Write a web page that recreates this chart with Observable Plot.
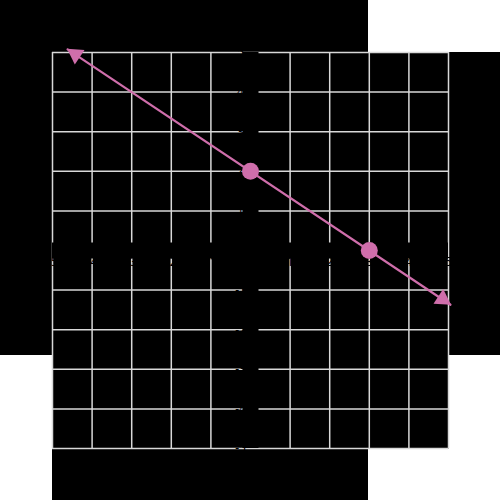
<!DOCTYPE html>
<html>
<head>
<meta charset="utf-8">
<script src="https://cdn.jsdelivr.net/npm/d3@7"></script>
<script src="https://cdn.jsdelivr.net/npm/@observablehq/plot@0.6"></script>
<style>
  html, body { margin: 0; padding: 0; background: #fff; }
  #wrap { position: relative; width: 500px; height: 500px; overflow: hidden; }
  .blk { position: absolute; background: #000; }
  #chart { position: absolute; left: 0; top: 0; }
  #chart svg { display: block; background: transparent; }
</style>
</head>
<body>
<div id="wrap">
  <div class="blk" style="left:0;top:0;width:368px;height:52px"></div>
  <div class="blk" style="left:0;top:52px;width:500px;height:303px"></div>
  <div class="blk" style="left:52px;top:355px;width:396px;height:93px"></div>
  <div class="blk" style="left:52px;top:448px;width:316px;height:52px"></div>
  <div id="chart"></div>
</div>
<script>
// grid ticks
const ticks = [-5, -4, -3, -2, -1, 0, 1, 2, 3, 4, 5];
const tickLabels = ["-5", "-4", "-3", "-2", "-1", "", "1", "2", "3", "4", "5"];
// plotted points
const pointX = [0, 3];
const pointY = [2, 0];
// line endpoints (arrow tips)
const lineX = [-4.62, 5.05];
const lineY = [5.08, -1.37];
// arrowhead centres and rotation (degrees)
const arrowX = [-4.42, 4.85];
const arrowY = [4.95, -1.23];
const arrowRotate = [-56.3, 123.7];

const points = pointX.map((x, i) => ({x, y: pointY[i]}));
const line = lineX.map((x, i) => ({x, y: lineY[i]}));
const arrows = arrowX.map((x, i) => ({x, y: arrowY[i], r: arrowRotate[i]}));
const pink = "#cf6eab";

const chart = Plot.plot({
  width: 500,
  height: 500,
  marginTop: 52, marginBottom: 52, marginLeft: 52, marginRight: 52,
  x: {domain: [-5, 5], axis: null},
  y: {domain: [-5, 5], axis: null},
  marks: [
    Plot.frame({fill: "black", stroke: "none"}),
    Plot.ruleX(ticks, {stroke: "#d8d8d8", strokeWidth: 1.5}),
    Plot.ruleY(ticks, {stroke: "#d8d8d8", strokeWidth: 1.5}),
    Plot.ruleX([0], {stroke: "black", strokeWidth: 16}),
    Plot.ruleY([0], {stroke: "black", strokeWidth: 16}),
    Plot.text(ticks.map((t, i) => ({t, s: tickLabels[i]})), {x: "t", y: 0, text: "s", dy: 12, fill: "black", fontSize: 12}),
    Plot.text(ticks.map((t, i) => ({t, s: tickLabels[i]})), {x: 0, y: "t", text: "s", dx: -10, fill: "black", fontSize: 12}),
    Plot.line(line, {x: "x", y: "y", stroke: pink, strokeWidth: 2.2}),
    Plot.dot(arrows, {x: "x", y: "y", symbol: "triangle", r: 6.5, fill: pink, stroke: "none", rotate: "r"}),
    Plot.dot(points, {x: "x", y: "y", r: 8.5, fill: pink, stroke: "none"})
  ]
});
document.getElementById("chart").appendChild(chart);
</script>
</body>
</html>
